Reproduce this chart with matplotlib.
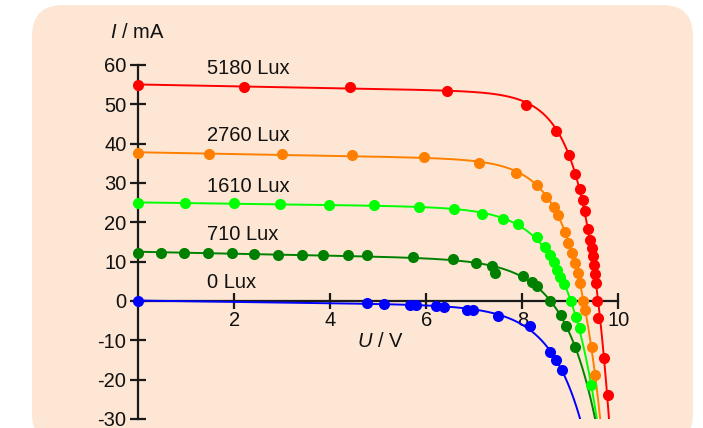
import numpy as np
import matplotlib
matplotlib.use("Agg")
import matplotlib.pyplot as plt
from matplotlib.patches import FancyBboxPatch
from matplotlib.transforms import IdentityTransform

plt.rcParams['font.family'] = ['Liberation Sans', 'DejaVu Sans']
plt.rcParams['mathtext.fontset'] = 'custom'
plt.rcParams['mathtext.rm'] = 'Liberation Sans'
plt.rcParams['mathtext.it'] = 'Liberation Sans:italic'

# ---- data (U in V, I in mA) ----
labels = ["5180 Lux", "2760 Lux", "1610 Lux", "710 Lux", "0 Lux"]
colors = ["#ff0000", "#ff8000", "#00ff00", "#008000", "#0000ff"]
label_y = [59.0, 42.0, 29.0, 17.0, 4.6]

U_5180 = [0.0, 2.2, 4.4, 6.44, 8.08, 8.7, 8.98, 9.1, 9.2, 9.26, 9.3, 9.37, 9.41,
          9.45, 9.47, 9.49, 9.51, 9.53, 9.56, 9.58, 9.7, 9.78]
I_5180 = [55.0, 54.5, 54.3, 53.5, 49.8, 43.3, 37.2, 32.2, 28.6, 25.6, 23.0, 18.4,
          15.6, 13.4, 11.4, 9.2, 6.9, 4.6, 0.0, -4.3, -14.6, -23.8]

U_2760 = [0.0, 1.48, 3.0, 4.45, 5.95, 7.1, 7.87, 8.31, 8.5, 8.67, 8.75, 8.89, 8.96,
          9.03, 9.1, 9.15, 9.2, 9.27, 9.31, 9.45, 9.51]
I_2760 = [37.6, 37.5, 37.3, 37.0, 36.6, 35.2, 32.6, 29.4, 26.5, 24.0, 21.8, 17.6,
          14.8, 12.3, 9.6, 7.0, 4.6, 0.0, -2.4, -11.8, -18.8]

U_1610 = [0.0, 0.97, 2.0, 2.95, 3.97, 4.9, 5.84, 6.58, 7.17, 7.6, 7.9, 8.3, 8.48,
          8.58, 8.65, 8.72, 8.79, 8.86, 9.01, 9.12, 9.2, 9.43]
I_1610 = [24.9, 24.9, 24.9, 24.7, 24.4, 24.3, 23.8, 23.4, 22.2, 20.8, 19.5, 16.2,
          13.8, 11.6, 9.8, 8.0, 6.0, 4.4, 0.0, -4.0, -6.9, -21.3]

U_710 = [0.0, 0.47, 0.96, 1.45, 1.96, 2.42, 2.91, 3.4, 3.85, 4.36, 4.77, 5.73, 6.55,
         7.03, 7.37, 7.43, 8.02, 8.2, 8.31, 8.58, 8.81, 8.91, 9.1]
I_710 = [12.3, 12.3, 12.2, 12.2, 12.1, 11.9, 11.8, 11.8, 11.7, 11.7, 11.6, 11.1,
         10.6, 9.7, 8.9, 7.2, 6.3, 4.8, 3.8, 0.0, -3.6, -6.4, -11.8]

U_0 = [0.0, 4.76, 5.12, 5.66, 5.79, 6.2, 6.36, 6.84, 6.98, 7.5, 8.15, 8.57, 8.7, 8.83]
I_0 = [0.0, -0.4, -0.8, -0.9, -0.9, -1.2, -1.4, -2.2, -2.4, -3.8, -6.4, -13.0, -15.0, -17.6]

series_U = [U_5180, U_2760, U_1610, U_710, U_0]
series_I = [I_5180, I_2760, I_1610, I_710, I_0]

x_ticks = [2, 4, 6, 8, 10]
y_ticks = [-30, -20, -10, 0, 10, 20, 30, 40, 50, 60]


def diode_fit(u, i):
    """Least-squares fit of I = a - b*(exp(U/n)-1) - c*U (grid over n)."""
    u = np.asarray(u, float)
    i = np.asarray(i, float)
    best = None
    for n in np.linspace(0.2, 2.0, 721):
        X = np.column_stack([np.ones_like(u), -(np.exp(u / n) - 1.0), -u])
        coef, *_ = np.linalg.lstsq(X, i, rcond=None)
        if coef[1] <= 0:
            continue
        r = np.sum((X @ coef - i) ** 2)
        if best is None or r < best[0]:
            best = (r, n, coef)
    _, n, (a, b, c) = best
    return lambda x: a - b * (np.exp(x / n) - 1.0) - c * x


W, H = 703, 428
FS = 14.5
fig = plt.figure(figsize=(W / 100, H / 100), dpi=100)
fig.patch.set_facecolor("white")

# rounded background panel (pixel coordinates, origin bottom-left)
px0, py0, px1, py1 = 32, 5, 693, 445
panel = FancyBboxPatch((px0, H - py1), px1 - px0, py1 - py0,
                       boxstyle="round,pad=0,rounding_size=31",
                       transform=IdentityTransform(), facecolor="#fde6d3",
                       edgecolor="none", zorder=-5)
fig.patches.append(panel)

# axes: x 0..10 -> px 138.3..618.3 ; y -30..60 -> px 419..65
ax_l, ax_r, ax_t, ax_b = 138.3, 618.3, 65, 419
ax = fig.add_axes([ax_l / W, 1 - ax_b / H, (ax_r - ax_l) / W, (ax_b - ax_t) / H])
ax.set_zorder(1)
ax.set_facecolor("none")
ax.set_xlim(0, 10)
ax.set_ylim(-30, 60)

for k in range(len(labels)):
    u = np.asarray(series_U[k])
    i = np.asarray(series_I[k])
    f = diode_fit(u, i)
    ug = np.linspace(0, 10, 2000)
    ig = f(ug)
    keep = ig >= -32
    ax.plot(ug[keep], ig[keep], color=colors[k], lw=1.4, zorder=3)
    ax.plot(u, i, 'o', color=colors[k], ms=8, mec='none', zorder=4, clip_on=False)
    ax.text(1.43, label_y[k], labels[k], fontsize=FS, color="#111111",
            va="center", ha="left")

for s in ["top", "right"]:
    ax.spines[s].set_visible(False)
ax.spines["left"].set_position(("data", 0))
ax.spines["bottom"].set_position(("data", 0))
for s in ["left", "bottom"]:
    ax.spines[s].set_linewidth(1.6)
    ax.spines[s].set_color("#1a1a1a")
    ax.spines[s].set_zorder(2)

ax.set_xticks(x_ticks)
ax.set_yticks(y_ticks)
ax.set_xticklabels([str(t) for t in x_ticks])
ax.set_yticklabels([str(t) for t in y_ticks])
ax.tick_params(axis="both", direction="inout", length=12, width=1.6,
               color="#1a1a1a", labelsize=FS, labelcolor="#111111")
ax.tick_params(axis="y", pad=2.5)
ax.tick_params(axis="x", pad=1)

ax.text(-0.59, 68.2, r"$\mathit{I}$ / mA", fontsize=FS, color="#111111",
        ha="left", va="center", clip_on=False)
ax.text(4.55, -10.4, r"$\mathit{U}$ / V", fontsize=FS, color="#111111",
        ha="left", va="center", clip_on=False)

fig.savefig("out.png", dpi=100, facecolor="white")
